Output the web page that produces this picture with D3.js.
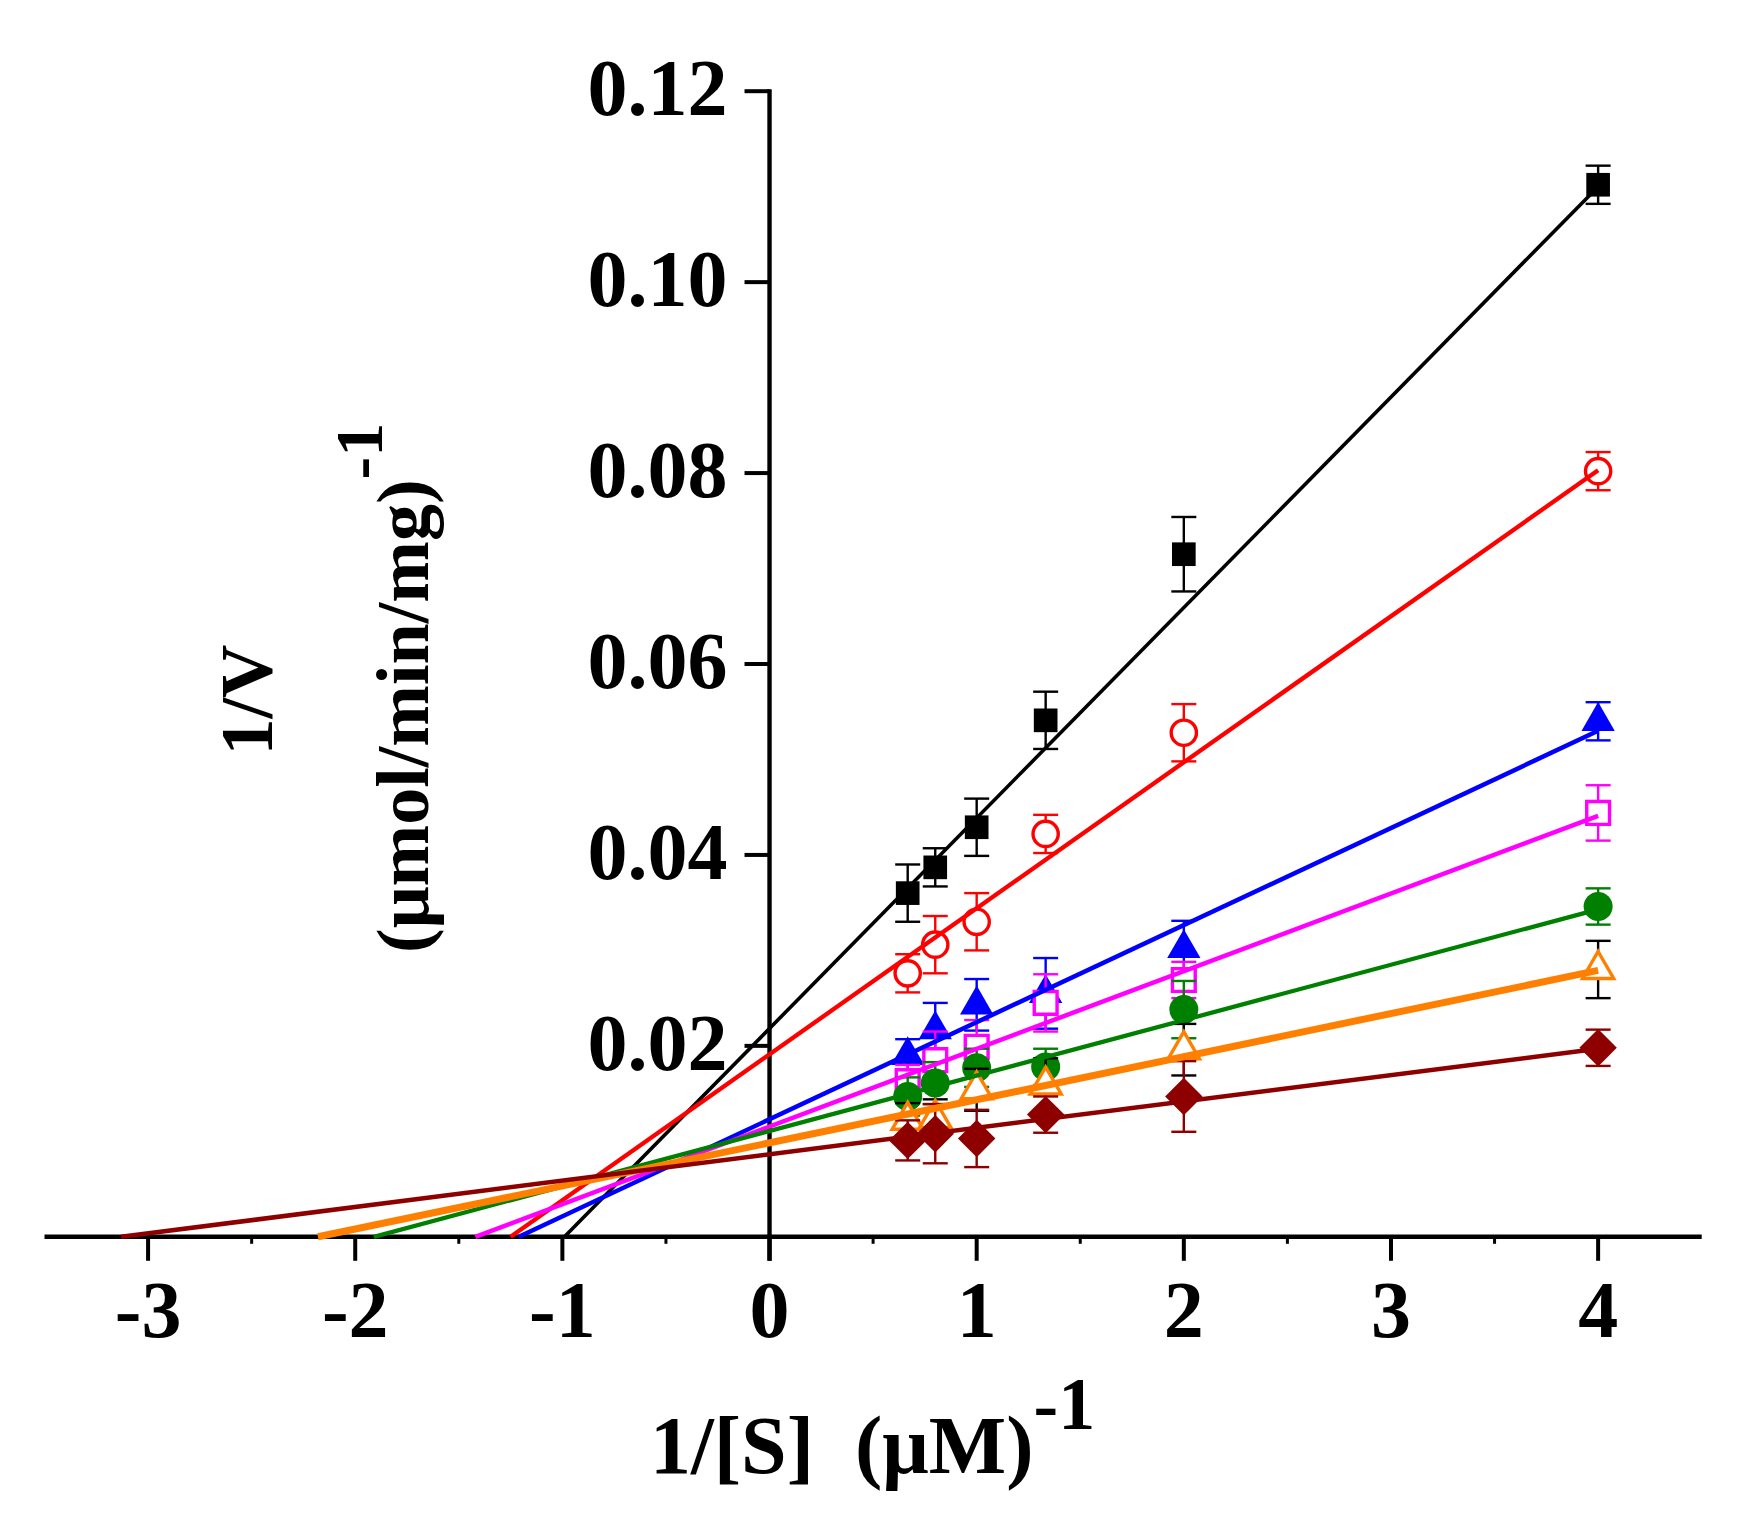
<!DOCTYPE html>
<html>
<head>
<meta charset="utf-8">
<script src="https://cdn.jsdelivr.net/npm/d3@7"></script>
<style>
  body { margin: 0; background: #fff; }
  text { font-family: "Liberation Serif", "Times New Roman", serif; font-weight: bold; }
</style>
</head>
<body>
<div id="chart"></div>
<script>
(function() {
    'use strict';

    // substrate levels, 1/[S]
    const xVals = [0.667, 0.8, 1, 1.333, 2, 4];

    // 1/V for each inhibitor level
    const blackY   = [0.0360, 0.0387, 0.0429, 0.0541, 0.0715, 0.1102];
    const redY     = [0.0276, 0.0306, 0.0330, 0.0422, 0.0528, 0.0802];
    const blueY    = [0.0190, 0.0217, 0.0243, 0.0255, 0.0302, 0.0540];
    const magentaY = [0.0163, 0.0185, 0.0199, 0.0245, 0.0269, 0.0444];
    const greenY   = [0.0147, 0.0161, 0.0177, 0.0178, 0.0238, 0.0346];
    const orangeY  = [0.0122, 0.0124, 0.0154, 0.0159, 0.0196, 0.0280];
    const wineY    = [0.0101, 0.0108, 0.0103, 0.0128, 0.0147, 0.0198];

    // error bar half heights
    const blackErr   = [0.0030, 0.0020, 0.0030, 0.0030, 0.0039, 0.0020];
    const redErr     = [0.0020, 0.0030, 0.0030, 0.0020, 0.0030, 0.0020];
    const blueErr    = [0.0017, 0.0028, 0.0027, 0.0037, 0.0029, 0.0020];
    const magentaErr = [0.0017, 0.0030, 0.0028, 0.0030, 0.0019, 0.0029];
    const greenErr   = [0.0020, 0.0022, 0.0020, 0.0019, 0.0030, 0.0019];
    const orangeErr  = [0.0018, 0.0020, 0.0022, 0.0028, 0.0027, 0.0030];
    const wineErr    = [0.0021, 0.0031, 0.0030, 0.0019, 0.0037, 0.0019];

    // linear fits: where each line meets the x axis, and its value at x = 4
    const fitX0 = [-0.99, -1.25, -1.21, -1.42, -1.91, -2.18, -3.13];
    const fitY4 = [0.1100, 0.0803, 0.0530, 0.0441, 0.0343, 0.0279, 0.0197];

    const xTicks = [-3, -2, -1, 0, 1, 2, 3, 4];
    const xMinor = [-2.5, -1.5, -0.5, 0.5, 1.5, 2.5, 3.5];
    const yTicks = [0.02, 0.04, 0.06, 0.08, 0.10, 0.12];

    const series = [
        { y: blackY,   err: blackErr,   color: "#000000", errColor: "#000000", shape: "square",   open: false, lw: 3.6 },
        { y: redY,     err: redErr,     color: "#ff0000", errColor: "#ff0000", shape: "circle",   open: true,  lw: 4.3 },
        { y: blueY,    err: blueErr,    color: "#0000ff", errColor: "#0000ff", shape: "triangle", open: false, lw: 4.5 },
        { y: magentaY, err: magentaErr, color: "#ff00ff", errColor: "#ff00ff", shape: "square",   open: true,  lw: 4.5 },
        { y: greenY,   err: greenErr,   color: "#008000", errColor: "#008000", shape: "circle",   open: false, lw: 4.3 },
        { y: orangeY,  err: orangeErr,  color: "#ff8000", errColor: "#000000", shape: "triangle", open: true,  lw: 7 },
        { y: wineY,    err: wineErr,    color: "#8e0000", errColor: "#8e0000", shape: "diamond",  open: false, lw: 4.5 }
    ];

    const width = 1744;
    const height = 1524;

    const svg = d3.select("#chart")
        .append("svg")
        .attr("width", width)
        .attr("height", height);

    svg.append("rect").attr("width", width).attr("height", height).attr("fill", "#fff");

    // SCALES
    const x = d3.scaleLinear().domain([-3.5, 4.5]).range([44.5, 1701.7]);
    const y = d3.scaleLinear().domain([0, 0.12]).range([1236.8, 91.2]);

    // X AXIS
    const xAxis = svg.append("g").attr("transform", `translate(0, ${y(0)})`);
    xAxis.append("line")
        .attr("x1", x(-3.5)).attr("x2", x(4.5))
        .attr("stroke", "#000").attr("stroke-width", 4.4);
    xAxis.selectAll(".major")
        .data(xTicks)
        .join("line")
        .attr("x1", d => x(d)).attr("x2", d => x(d))
        .attr("y1", 0).attr("y2", 24)
        .attr("stroke", "#000").attr("stroke-width", 4);
    xAxis.selectAll(".minor")
        .data(xMinor)
        .join("line")
        .attr("class", "minor")
        .attr("x1", d => x(d)).attr("x2", d => x(d))
        .attr("y1", 0).attr("y2", 7)
        .attr("stroke", "#000").attr("stroke-width", 3);
    xAxis.selectAll("text")
        .data(xTicks)
        .join("text")
        .attr("x", d => x(d))
        .attr("y", 100)
        .attr("text-anchor", "middle")
        .attr("font-size", "80px")
        .text(d => d < 0 ? "-" + Math.abs(d) : d);

    // Y AXIS
    const yAxis = svg.append("g").attr("transform", `translate(${x(0)}, 0)`);
    yAxis.append("line")
        .attr("y1", y(0.12) - 2).attr("y2", y(0) + 24)
        .attr("stroke", "#000").attr("stroke-width", 4.4);
    yAxis.selectAll(".tick")
        .data(yTicks)
        .join("line")
        .attr("x1", -25).attr("x2", 0)
        .attr("y1", d => y(d)).attr("y2", d => y(d))
        .attr("stroke", "#000").attr("stroke-width", 4);
    yAxis.selectAll("text")
        .data(yTicks)
        .join("text")
        .attr("x", -42)
        .attr("y", d => y(d))
        .attr("dy", "0.3em")
        .attr("text-anchor", "end")
        .attr("font-size", "80px")
        .text(d => d3.format(".2f")(d));

    // AXIS TITLES
    const xTitle = svg.append("text")
        .attr("x", 650)
        .attr("y", 1473)
        .attr("font-size", "82px");
    xTitle.append("tspan").text("1/[S]\u00a0\u00a0(\u03bcM)");
    xTitle.append("tspan").attr("font-size", "74px").attr("dy", -44).text("-1");

    svg.append("text")
        .attr("transform", "translate(272, 700) rotate(-90)")
        .attr("text-anchor", "middle")
        .attr("font-size", "74px")
        .text("1/V");

    const yTitle = svg.append("text")
        .attr("transform", "translate(428, 953) rotate(-90)")
        .attr("font-size", "74px");
    yTitle.append("tspan").text("(\u03bcmol/min/mg)");
    yTitle.append("tspan").attr("font-size", "68px").attr("dy", -46).text("-1");

    // SYMBOLS
    function symbolPath(s) {
        if (s.shape === "circle") return d3.symbol(d3.symbolCircle, s.open ? 500 : 660)();
        if (s.shape === "triangle") return d3.symbol(d3.symbolTriangle, s.open ? 420 : 480)();
        if (s.shape === "diamond") return d3.symbol(d3.symbolSquare, 700)();
        return d3.symbol(d3.symbolSquare, s.open ? 520 : 560)();
    }

    const plot = svg.append("g");

    series.forEach(function(s) {
        const pts = xVals.map((xv, i) => ({ x: xv, y: s.y[i], e: s.err[i] }));
        const g = plot.append("g");

        // ERROR BARS
        const eb = g.append("g").attr("stroke", s.errColor).attr("stroke-width", 2.4);
        eb.selectAll(".v").data(pts).join("line")
            .attr("x1", d => x(d.x)).attr("x2", d => x(d.x))
            .attr("y1", d => y(d.y - d.e)).attr("y2", d => y(d.y + d.e));
        eb.selectAll(".top").data(pts).join("line").attr("class", "top")
            .attr("x1", d => x(d.x) - 12.5).attr("x2", d => x(d.x) + 12.5)
            .attr("y1", d => y(d.y + d.e)).attr("y2", d => y(d.y + d.e));
        eb.selectAll(".bot").data(pts).join("line").attr("class", "bot")
            .attr("x1", d => x(d.x) - 12.5).attr("x2", d => x(d.x) + 12.5)
            .attr("y1", d => y(d.y - d.e)).attr("y2", d => y(d.y - d.e));

        // MARKERS
        g.append("g").selectAll("path").data(pts).join("path")
            .attr("d", symbolPath(s))
            .attr("transform", d => `translate(${x(d.x)}, ${y(d.y)})` + (s.shape === "diamond" ? " rotate(45)" : ""))
            .attr("fill", s.open ? "#fff" : s.color)
            .attr("stroke", s.open ? s.color : "none")
            .attr("stroke-width", 3.4);
    });

    // FIT LINES
    const line = d3.line().x(d => x(d[0])).y(d => y(d[1]));
    plot.append("g").selectAll("path")
        .data(series)
        .join("path")
        .attr("d", (s, i) => line([[fitX0[i], 0], [4, fitY4[i]]]))
        .attr("fill", "none")
        .attr("stroke", s => s.color)
        .attr("stroke-width", s => s.lw);
})();
</script>
</body>
</html>
